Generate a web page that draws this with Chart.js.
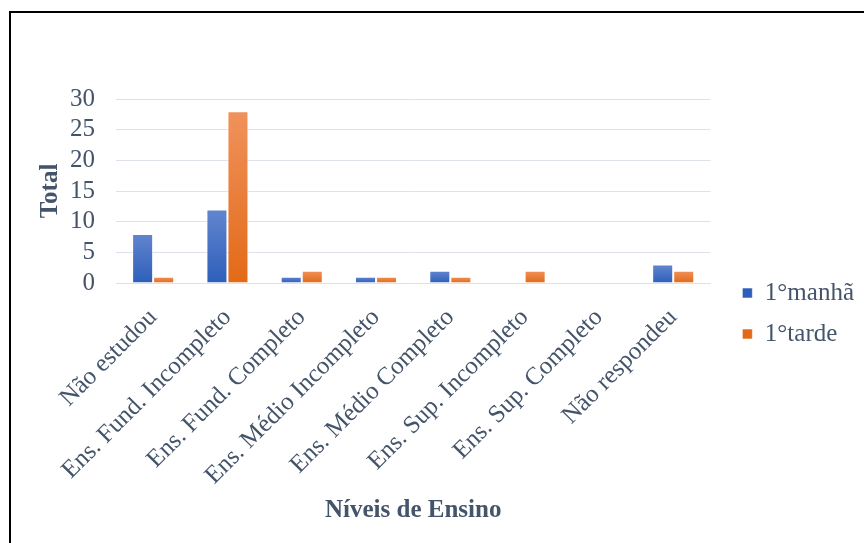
<!DOCTYPE html>
<html>
<head>
<meta charset="utf-8">
<script src="https://cdn.jsdelivr.net/npm/chart.js@4/dist/chart.umd.min.js"></script>
<style>
  html, body { margin: 0; padding: 0; background: #ffffff; }
  #wrap { width: 864px; height: 543px; }
</style>
</head>
<body>
<div id="wrap"><canvas id="chart" width="864" height="543"></canvas></div>
<script>
// Education level categories
const categories = [
  'Não estudou',
  'Ens. Fund. Incompleto',
  'Ens. Fund. Completo',
  'Ens. Médio Incompleto',
  'Ens. Médio Completo',
  'Ens. Sup. Incompleto',
  'Ens. Sup. Completo',
  'Não respondeu'
];

// Counts per shift
const manha = [8, 12, 1, 1, 2, 0, 0, 3];
const tarde = [1, 28, 2, 1, 1, 2, 0, 2];
const seriesNames = ['1°manhã', '1°tarde'];

// Value axis ticks
const yMin = 0;
const yMax = 30;
const yStep = 5;

const TEXT = '#44546a';
const GRID = '#dde2ea';
const FONT = "'Liberation Serif', 'Times New Roman', serif";
const SIZE = 25;

// Vertical gradient per bar: lighter on top, deeper at the base
function barFill(topColor, baseColor, flat) {
  return (ctx) => {
    if (ctx.type !== 'data') return flat;
    const chart = ctx.chart;
    const y = chart.scales.y;
    if (!chart.chartArea || !y) return flat;
    const v = ctx.parsed ? ctx.parsed.y : ctx.raw;
    const pTop = y.getPixelForValue(v);
    const pBase = y.getPixelForValue(0);
    if (!(pBase - pTop > 0)) return flat;
    const g = chart.ctx.createLinearGradient(0, pTop, 0, pBase);
    g.addColorStop(0, topColor);
    g.addColorStop(1, baseColor);
    return g;
  };
}

const barBorderWidth = (ctx) => (ctx.type === 'data' && ctx.raw > 0) ? 1 : 0;

// Outer frame lines (left and top)
const framePlugin = {
  id: 'frame',
  afterDraw(chart) {
    const c = chart.ctx;
    c.save();
    c.fillStyle = '#000000';
    c.fillRect(9, 11, 2, chart.height - 11);
    c.fillRect(9, 11, chart.width - 9, 2);
    c.restore();
  }
};

Chart.defaults.font.family = FONT;
Chart.defaults.font.size = SIZE;
Chart.defaults.color = TEXT;

new Chart(document.getElementById('chart'), {
  type: 'bar',
  data: {
    labels: categories,
    datasets: [
      {
        label: seriesNames[0],
        data: manha,
        backgroundColor: barFill('#6385cf', '#2d5fba', '#4472c4'),
        borderColor: 'rgba(255,255,255,0.55)',
        borderWidth: barBorderWidth,
        categoryPercentage: 0.566,
        barPercentage: 1.0
      },
      {
        label: seriesNames[1],
        data: tarde,
        backgroundColor: barFill('#f0925c', '#e26a17', '#ed7d31'),
        borderColor: 'rgba(255,255,255,0.55)',
        borderWidth: barBorderWidth,
        categoryPercentage: 0.566,
        barPercentage: 1.0
      }
    ]
  },
  options: {
    responsive: false,
    animation: false,
    layout: { padding: { top: 99, bottom: 15, left: 33, right: 0 } },
    plugins: {
      legend: {
        position: 'right',
        align: 'center',
        labels: {
          boxWidth: 10,
          boxHeight: 10,
          padding: 16,
          color: TEXT,
          font: { family: FONT, size: SIZE }
        }
      },
      tooltip: { enabled: false },
      title: { display: false }
    },
    scales: {
      x: {
        grid: { display: false, drawTicks: false },
        border: { display: true, color: GRID, width: 1 },
        ticks: {
          minRotation: 45,
          maxRotation: 45,
          autoSkip: false,
          padding: 20,
          color: TEXT,
          font: { family: FONT, size: SIZE }
        },
        title: {
          display: true,
          text: 'Níveis de Ensino',
          color: TEXT,
          font: { family: FONT, size: SIZE, weight: 'bold' },
          padding: { top: 0, bottom: 2 }
        },
        afterFit(scale) { scale.height = 245; }
      },
      y: {
        min: yMin,
        max: yMax,
        ticks: {
          stepSize: yStep,
          autoSkip: false,
          maxTicksLimit: 20,
          padding: 21,
          color: TEXT,
          font: { family: FONT, size: SIZE, lineHeight: 1 }
        },
        grid: { color: GRID, lineWidth: 1, drawTicks: false },
        border: { display: false },
        title: {
          display: true,
          text: 'Total',
          color: TEXT,
          font: { family: FONT, size: SIZE, weight: 'bold' },
          padding: { top: 3, bottom: 0 }
        },
        afterFit(scale) { scale.width = 83; }
      },
      gap: {
        type: 'linear',
        position: 'right',
        display: true,
        grid: { display: false, drawTicks: false },
        border: { display: false },
        ticks: { display: false },
        afterFit(scale) { scale.width = 16; }
      }
    }
  },
  plugins: [framePlugin]
});
</script>
</body>
</html>
